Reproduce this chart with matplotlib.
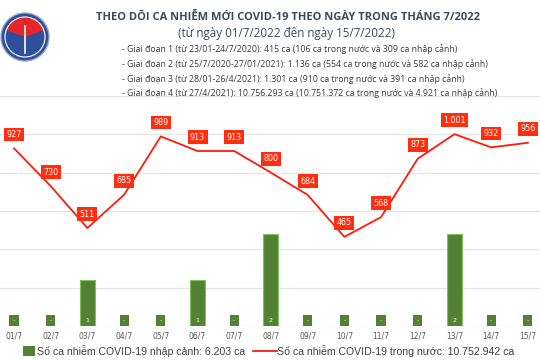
import matplotlib
matplotlib.use("Agg")
import matplotlib.pyplot as plt
from matplotlib.patches import Rectangle, Circle, Wedge
import numpy as np

days = ["01/7", "02/7", "03/7", "04/7", "05/7", "06/7", "07/7", "08/7",
        "09/7", "10/7", "11/7", "12/7", "13/7", "14/7", "15/7"]
domestic = [927, 730, 511, 685, 989, 913, 913, 800, 684, 465, 568, 873, 1001, 932, 956]
imported = [0, 0, 1, 0, 0, 1, 0, 2, 0, 0, 0, 0, 2, 0, 0]

title = "THEO DÕI CA NHIỄM MỚI COVID-19 THEO NGÀY TRONG THÁNG 7/2022"
subtitle = "(từ ngày 01/7/2022 đến ngày 15/7/2022)"
notes = [
    "- Giai đoạn 1 (từ 23/01-24/7/2020): 415 ca (106 ca trong nước và 309 ca nhập cảnh)",
    "- Giai đoạn 2 (từ 25/7/2020-27/01/2021): 1.136 ca (554 ca trong nước và 582 ca nhập cảnh)",
    "- Giai đoạn 3 (từ 28/01-26/4/2021): 1.301 ca (910 ca trong nước và 391 ca nhập cảnh)",
    "- Giai đoạn 4 (từ 27/4/2021): 10.756.293 ca (10.751.372 ca trong nước và 4.921 ca nhập cảnh)",
]
legend_bar = "Số ca nhiễm COVID-19 nhập cảnh: 6.203 ca"
legend_line = "Số ca nhiễm COVID-19 trong nước: 10.752.942 ca"

def vn(n):
    return f"{n:,}".replace(",", ".")

W, H = 540, 360
fig = plt.figure(figsize=(5.4, 3.6), dpi=100)
fig.patch.set_facecolor("white")

def fx(px): return px / W
def fy(py): return 1 - py / H

# axes
ax = fig.add_axes([0, fy(326), 1, fy(96) - fy(326)])
x = np.arange(len(days))
ax.set_xlim(-0.381, 14.33)
ax.set_ylim(0, 5)
for s in ax.spines.values():
    s.set_visible(False)
ax.set_yticks([])
ax.set_xticks(x)
ax.set_xticklabels(days, fontsize=5.5, color="#595959", family="DejaVu Sans")
ax.tick_params(axis="x", length=0, pad=4)

ax2 = ax.twinx()
ax2.set_ylim(0, 1200)
for s in ax2.spines.values():
    s.set_visible(False)
ax2.set_yticks([])
for g in range(0, 1201, 200):
    ax.axhline(g / 240.0, color="#e6e6e6", lw=0.9, zorder=0)

green = "#548235"
bars = ax.bar(x, imported, width=0.41, color=green, edgecolor="#7fc15a", lw=0.8, zorder=2)
for xi, v in zip(x, imported):
    if v > 0:
        ax.text(xi, 0.13, str(v), ha="center", va="center", fontsize=4.5,
                color="white", zorder=3)
    else:
        ax.text(xi, 0.12, "-", ha="center", va="center", fontsize=4.5, color="white",
                zorder=3, bbox=dict(boxstyle="square,pad=0.55", fc=green, ec="none"))

ax.set_zorder(1)
ax2.set_zorder(2)
ax2.patch.set_visible(False)
ax.patch.set_visible(False)

ax2.plot(x, domestic, color="#ff1a0a", lw=1.3, zorder=4)
for xi, v in zip(x, domestic):
    ax2.annotate(vn(v), (xi, v), xytext=(0, 10), textcoords="offset points",
                 ha="center", va="center", fontsize=5.8, color="white", zorder=5,
                 family="DejaVu Sans",
                 bbox=dict(boxstyle="square,pad=0.3", fc="#ff2e0f", ec="none"))

# titles
fig.text(fx(288), fy(17), title, ha="center", va="center", fontsize=8.0,
         fontweight="bold", color="#3a4a5e", family="Open Sans")
fig.text(fx(287), fy(33), subtitle, ha="center", va="center", fontsize=8.4,
         color="#3a4a5e", family="Open Sans")
for i, t in enumerate(notes):
    fig.text(fx(122), fy(49 + 14.8 * i), t, ha="left", va="center", fontsize=6.3,
             color="#3a3a3a", family="Open Sans")

# logo
lax = fig.add_axes([0, fy(68), fx(50), fy(2) - fy(68)])
lax.set_xlim(0, 1); lax.set_ylim(0, 1.32)
lax.set_aspect("equal"); lax.axis("off")
lax.add_patch(Circle((0.5, 0.62), 0.48, fc="#2d4f9c", ec="#9aa6c8", lw=1))
lax.add_patch(Wedge((0.5, 0.62), 0.40, 20, 160, fc="#e4262b", ec="none"))
lax.add_patch(Circle((0.5, 0.62), 0.40, fc="none", ec="white", lw=0.8))
lax.plot([0.5, 0.5], [0.3, 0.85], color="white", lw=1.2)

# legend
fig.patches.append(Rectangle((fx(23), fy(356)), fx(12), fy(346) - fy(356),
                             transform=fig.transFigure, fc=green, ec="none"))
fig.text(fx(37), fy(351), legend_bar, ha="left", va="center", fontsize=7.6,
         color="#404040", family="Liberation Sans")
fig.lines.append(plt.Line2D([fx(253), fx(277)], [fy(351), fy(351)],
                            transform=fig.transFigure, color="#ff1a0a", lw=1.3))
fig.text(fx(277), fy(351), legend_line, ha="left", va="center", fontsize=7.6,
         color="#404040", family="Liberation Sans")

fig.savefig("out.png", dpi=100)
